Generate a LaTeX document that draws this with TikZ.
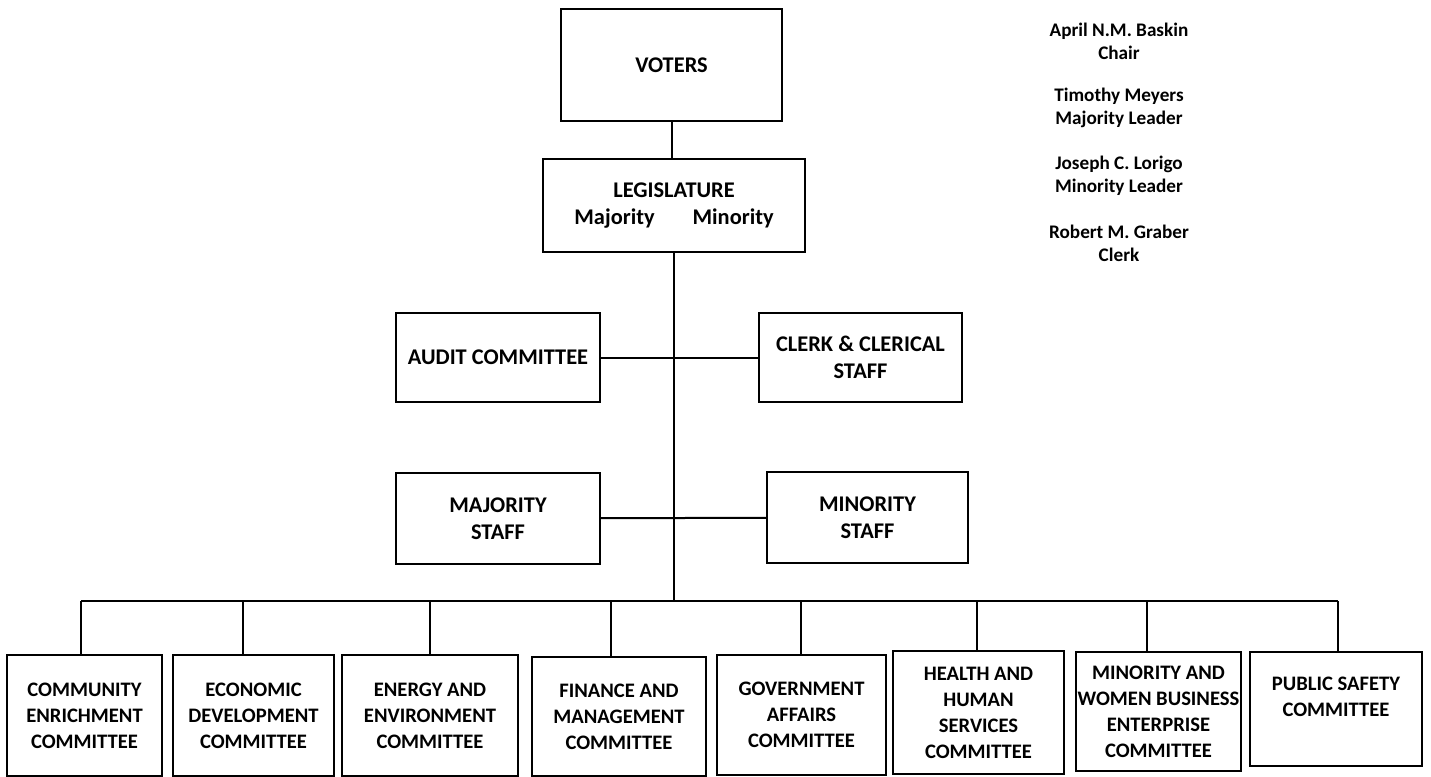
\documentclass[tikz,border=0pt]{standalone}
\usepackage{fontspec}
\setmainfont{Carlito}
\begin{document}
\begin{tikzpicture}[x=0.5pt, y=0.5pt]
	\tikzstyle{every node}+=[inner sep=0.5pt, align=center, font=\fontsize{10.3}{13}\selectfont\bfseries]
	\tikzstyle{box}=[draw=black, line width=0.9pt]
	\tikzstyle{topbox}=[box, font=\fontsize{11.2}{13.5}\selectfont\bfseries]
	\tikzstyle{officer}=[font=\fontsize{9.6}{11.5}\selectfont\bfseries]
	\useasboundingbox (0,0) rectangle (1431,-777);
	% top of the chart
	\node [topbox, minimum width=110.5pt, minimum height=56pt] (voters) at (671.5,-65) {VOTERS};
	\node [topbox, minimum width=131pt, minimum height=46.5pt] (legis) at (674,-205.5) {LEGISLATURE\\Majority\hspace{19pt}Minority};
	\node [topbox, minimum width=102pt, minimum height=44.5pt] (audit) at (498,-357.5) {AUDIT COMMITTEE};
	\node [topbox, minimum width=101.5pt, minimum height=44.5pt] (clerk) at (860.5,-357.5) {CLERK \& CLERICAL\\STAFF};
	\node [topbox, minimum width=102pt, minimum height=45.5pt] (majstaff) at (498,-518.5) {MAJORITY\\STAFF};
	\node [topbox, minimum width=100.5pt, minimum height=45.5pt] (minstaff) at (867.5,-517.5) {MINORITY\\STAFF};
	% officers
	\node [officer] (chair) at (1119,-41.5) {April N.M. Baskin\\Chair};
	\node [officer] (majlead) at (1119,-108) {Timothy Meyers\\Majority Leader};
	\node [officer] (minlead) at (1119,-175.5) {Joseph C. Lorigo\\Minority Leader};
	\node [officer] (clerkname) at (1119,-243) {Robert M. Graber\\Clerk};
	% committees
	\node [box, minimum width=77.5pt, minimum height=60.5pt] (community) at (84.5,-715.5) {COMMUNITY\\ENRICHMENT\\COMMITTEE};
	\node [box, minimum width=80.5pt, minimum height=60.5pt] (economic) at (253.5,-715.5) {ECONOMIC\\DEVELOPMENT\\COMMITTEE};
	\node [box, minimum width=88pt, minimum height=60.5pt] (energy) at (430,-715.5) {ENERGY AND\\ENVIRONMENT\\COMMITTEE};
	\node [box, minimum width=87pt, minimum height=59.5pt] (finance) at (619,-716.5) {FINANCE AND\\MANAGEMENT\\COMMITTEE};
	\node [box, minimum width=84.5pt, minimum height=60pt] (government) at (801.5,-715) {GOVERNMENT\\AFFAIRS\\COMMITTEE};
	\node [box, minimum width=85.5pt, minimum height=61.5pt] (health) at (978.5,-712.5) {HEALTH AND\\HUMAN\\SERVICES\\COMMITTEE};
	\node [box, minimum width=82.5pt, minimum height=59.5pt] (mwbe) at (1158.5,-711.5) {MINORITY AND\\WOMEN BUSINESS\\ENTERPRISE\\COMMITTEE};
	\node [box, minimum width=86pt, minimum height=57pt] (safety) at (1336,-709) {PUBLIC SAFETY\\COMMITTEE\rule[-12pt]{0pt}{0pt}};
	\coordinate (bus) at (674,-601);
	% connectors
	\draw [black, line width=1pt] (voters) -- (voters |- legis.north);
	\draw [black, line width=1.2pt] (legis) -- (legis.south |- bus);
	\draw [black, line width=1pt] (audit) -- (clerk);
	\draw [black, line width=1pt] (majstaff) -- (minstaff);
	\draw [black, line width=1pt] ([xshift=-1.75pt]community.north |- bus) -- ([xshift=1pt]safety.north |- bus);
	\foreach \n/\s in {community/-3.5, economic/-10.5, energy/0, finance/-8, government/-0.5, health/-1.5, mwbe/-11.5, safety/2}
		\draw [black, line width=0.8pt] ([shift={(\s,0)}]\n.north) -- ([shift={(\s,0)}]\n.north |- bus);
\end{tikzpicture}
\end{document}
